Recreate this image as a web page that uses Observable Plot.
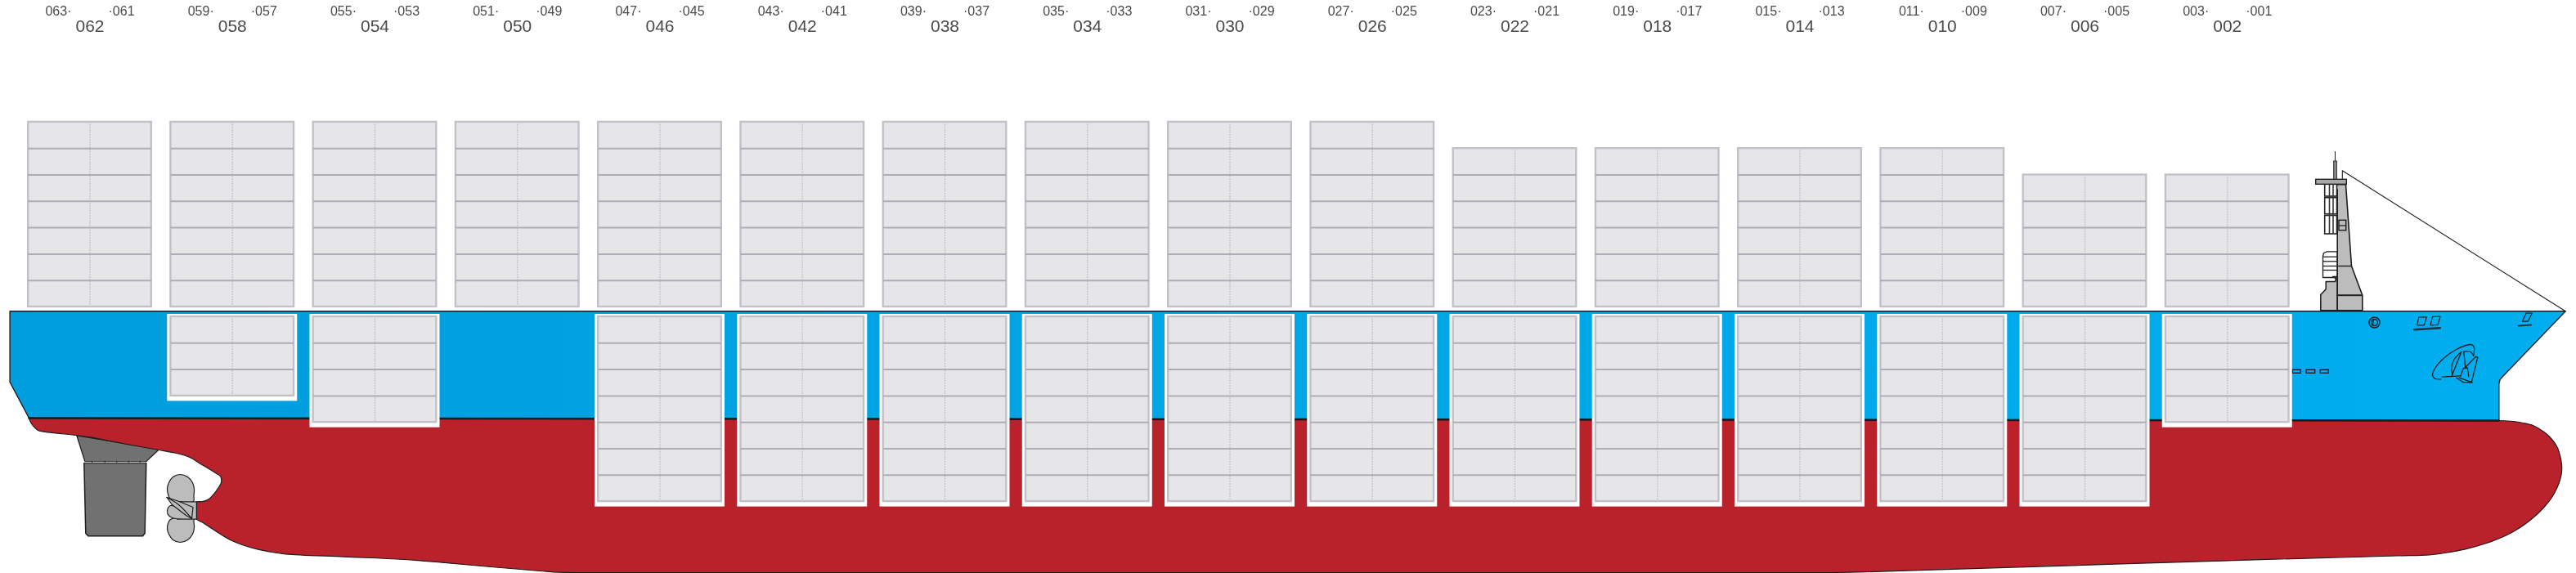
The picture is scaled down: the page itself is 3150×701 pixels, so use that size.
<!DOCTYPE html>
<html>
<head>
<meta charset="utf-8">
<script src="https://cdn.jsdelivr.net/npm/d3@7"></script>
<script src="https://cdn.jsdelivr.net/npm/@observablehq/plot@0.6"></script>
<style>
html,body{margin:0;padding:0;background:#fff}
svg{display:block}
svg g[aria-label="text"]{filter:grayscale(1)}
</style>
</head>
<body>
<div id="chart"></div>
<script>
// ---- bay plan values ----
const bays40 = ["062","058","054","050","046","042","038","034","030","026","022","018","014","010","006","002"];
const bays20Aft = ["063","059","055","051","047","043","039","035","031","027","023","019","015","011","007","003"];
const bays20Fwd = ["061","057","053","049","045","041","037","033","029","025","021","017","013","009","005","001"];
const deckTiers = [7,7,7,7,7,7,7,7,7,7,6,6,6,6,5,5];
const holdTiers = [0,3,4,0,7,7,7,7,7,7,7,7,7,7,7,4];

// ---- drawing outlines, in picture units ----
const blueHull = [[11.6,380.3],[3136.7,380.3],[3060,460],[3056.5,464],[3055.3,469],[3055.3,514],[35,511],[11.6,467]];
const redHull = [[35,511],[37,516],[41,521.7],[46,526],[53,527.7],[72,529.8],[92,532],[111.5,534.7],[135,539.2],[160,544],[194,550],[213,553.5],[225,556.5],[235,560.7],[243,566],[252,571.2],[262,577.5],[267.5,580.8],[269.3,582.5],[270,590],[266,597],[261,604],[255,610],[248,612.8],[240,613.3],[240,613.4]];
const redHullLow = [[240,634.9],[240,635],[246,638],[252,641.7],[266,651],[281,660],[297,666.5],[315,671.7],[332,675],[349,677.3],[420,680.7],[494,684],[600,693],[660,698],[683,699.7],[720,700],[1500,700],[2240,700],[2280,699.2],[2330,697.7],[2780,683.7],[2930,679.5],[2970,678.3],[2992,675.5],[3013,671.7],[3040,664],[3063,655],[3081,645],[3097,633],[3110,620.5],[3120,608],[3126,597],[3130,586.7],[3132,577],[3132,568],[3130,557],[3126.7,546.7],[3120,537],[3113,530],[3105,524.5],[3097,520],[3085,517],[3073,515],[3055,514]];
const rudderHorn = [[93.3,532.3],[103.3,564],[178.3,564],[194,549.3],[150,541.7],[93.3,532.3]];
const rudderBlade = [[102.3,566],[104.3,651.7],[107.3,655.3],[174,655.3],[176.7,651.7],[178.3,566],[102.3,566]];
const rudderHinges = [112,127.7,142.3,156.7,170.7];
const propTop = [[220,580],[229,583],[235,590],[237,598],[236.5,606],[236,613],[208,610],[205,604],[204,597],[206,590],[211,583]];
const propLow = [[220,663],[229,660],[235,653],[237,645],[236.5,638],[236,633],[208,635],[205,640],[204,646],[206,653],[211,660]];
const propMid = [[208,618],[216,620],[225,624],[225,632],[216,634],[208,632],[204.5,628],[204.5,622]];
const propHub = [[216,613.5],[240,613.3],[240,635],[216,634],[216,613.5]];
const propLeaf = [[203.5,608],[217,612.5],[235.5,620],[234,634],[227,630],[210,617],[203.5,608]];
const propEdge = [[203.5,608],[218,617],[234,634]];

const tower = [[2852.7,225.3],[2857.7,231.7],[2857.7,379.3],[2888.3,379.3],[2888.3,360.7],[2875,325],[2868,225.3],[2852.7,225.3]];
const lowerBlock = [[2837.3,379.3],[2837.3,360],[2843.7,353.3],[2843.7,344],[2855,344],[2856,340],[2852,338],[2857.7,338],[2857.7,379.3],[2837.3,379.3]];
const stripeBox = [[2857.7,307.3],[2845,307.3],[2841,309],[2840,313],[2840,339],[2857.7,339],[2857.7,307.3]];
const stripeLines = [313.7,319.3,325,330];
const ladderRows = [[225.3,240],[241.7,261.7],[263.5,286]];
const ladderColumns = [2842.7,2848,2852.5];
const towerBands = [[2857.7,2875,325,1.4],[2857.7,2888.3,360.7,2]];
const mastPole = [2853.7,2857.3,197,219.5];
const crossBar = [2831.7,2869.3,219.3,225.3];
const mastWire = [[2855,185],[2855,197.3]];
const stay = [[2863.8,219],[2863.8,208.3],[3136.7,380.3]];
const towerHatch = [[2860,269.3,2868.7,281.7]];

const vents = [[2803.3,2813.3],[2820,2830.7],[2837.3,2847.3]];
const sealBar = [[2901.5,390.5],[2901,397.5]];
const windowA = [[2955,397.3],[2957.3,387.3],[2966.7,387.3],[2964,397.3],[2955,397.3]];
const windowB = [[2971.5,397.3],[2974,387],[2983.5,386.5],[2980.5,397],[2971.5,397.3]];
const windowC = [[3084,392.7],[3088.3,382.7],[3095.7,382.7],[3090.7,392.7],[3084,392.7]];
const underA = [[2951.7,402.7],[2983.3,400.7]];
const underC = [[3079.3,398],[3094.7,397]];
const anchorBlob = [[2984,463.3],[2977,462.7],[2974,458.3],[2977.5,449.5],[2988.3,437.3],[3001.7,427.7],[3015,422],[3022.7,421.3],[3025,425],[3024.3,434]];
const anchorArc = [[3009.3,430],[3000,440],[2997.3,450],[2998.3,458.3]];
const anchorArc2 = [[3012.3,430],[3020,429.5],[3024.3,435]];
const anchorLines = [
  [[2985.7,460.7],[3008.3,459.3]],
  [[2997.7,459.3],[3009.3,430]],
  [[3012.3,430],[3014.3,449.3]],
  [[3013.3,450],[3026.7,436]],
  [[3026.7,436],[3029.3,436.7],[3021.7,467.3]],
  [[3003.3,461.7],[3011.7,467.3],[3022.7,467.3],[3006.7,461.7]],
  [[3008.3,460],[3011.7,450],[3016.7,449.3],[3018.3,460]]
];

// ---- layout helpers ----
const bayX = i => 109.5 + 174.25 * i;
const half = 75.3, tierH = 32.3, deckBase = 375, holdTop = 387;
const idx = bays40.map((_, i) => i);
const holds = idx.filter(i => holdTiers[i] > 0);
const deckTop = i => deckBase - deckTiers[i] * tierH;
const holdBase = i => holdTop + holdTiers[i] * tierH;
const deckLines = idx.flatMap(i => d3.range(1, deckTiers[i]).map(t => ({i, y: deckBase - t * tierH})));
const holdLines = holds.flatMap(i => d3.range(1, holdTiers[i]).map(t => ({i, y: holdTop + t * tierH})));

const line = (pts, o = {}) => Plot.line(pts, {x: d => d[0], y: d => d[1], stroke: "#1d1d1f", strokeWidth: 1.5, ...o});
const cellFill = "#e6e6e9", cellEdge = "#c2c1c8", tierLine = "#aeadb5", midLine = "#cbcbcf";

const stack = (list, top, base) => [
  Plot.rect(list, {x1: i => bayX(i) - half, x2: i => bayX(i) + half, y1: top, y2: base, fill: cellFill, stroke: cellEdge, strokeWidth: 2.4}),
  Plot.ruleX(list, {x: bayX, y1: top, y2: base, stroke: midLine, strokeWidth: 1.6, strokeDasharray: "2 1"})
];
const tiers = rows => Plot.ruleY(rows, {y: "y", x1: d => bayX(d.i) - half, x2: d => bayX(d.i) + half, stroke: tierLine, strokeWidth: 2});

const gradient = () => {
  const defs = d3.create("svg:defs");
  const g = defs.append("linearGradient").attr("id", "hullBlue").attr("x1", "0").attr("x2", "1").attr("y1", "0").attr("y2", "0");
  g.append("stop").attr("offset", "0").attr("stop-color", "#009edd");
  g.append("stop").attr("offset", "1").attr("stop-color", "#00aeef");
  return defs.node();
};

const chart = Plot.plot({
  width: 3150,
  height: 701,
  margin: 0,
  style: {background: "#fff", fontFamily: "'Liberation Sans', Arial, sans-serif"},
  x: {type: "linear", domain: [0, 3150], range: [0, 3150], axis: null},
  y: {type: "linear", domain: [0, 701], range: [0, 701], axis: null},
  marks: [
    gradient,
    // hull
    line(blueHull.concat([blueHull[0]]), {fill: "url(#hullBlue)", strokeWidth: 1.4}),
    line(rudderHorn, {fill: "#717171", strokeWidth: 1.2}),
    line(rudderBlade, {fill: "#717171", strokeWidth: 1.5}),
    Plot.ruleY([565], {x1: 103, x2: 178, stroke: "#bdbdbd", strokeWidth: 1.6}),
    Plot.ruleX(rudderHinges, {x: d => d, y1: 563.5, y2: 566, stroke: "#333", strokeWidth: 1}),
    line(propTop, {fill: "#bcbcbc", curve: "catmull-rom-closed", strokeWidth: 1.2}),
    line(propLow, {fill: "#bcbcbc", curve: "catmull-rom-closed", strokeWidth: 1.2}),
    line(propMid, {fill: "#bcbcbc", curve: "catmull-rom-closed", strokeWidth: 1.2}),
    line(propHub, {fill: "#bcbcbc", strokeWidth: 1.2, stroke: "none"}),
    Plot.ruleX([240], {y1: 613.3, y2: 635, stroke: "#1d1d1f", strokeWidth: 1.3}),
    Plot.ruleY([613.4, 634.6], {x1: 216, x2: 240, stroke: "#1d1d1f", strokeWidth: 1.2}),
    line(propLeaf, {fill: "#bcbcbc", strokeWidth: 1.2}),
    line(propEdge, {strokeWidth: 1.2, curve: "catmull-rom"}),
    line(redHull.concat(redHullLow), {fill: "#b9222a", strokeWidth: 1.2, curve: "catmull-rom"}),
    Plot.line([[35, 511], [3055, 514]], {x: d => d[0], y: d => d[1], stroke: "#15171a", strokeWidth: 2.4}),
    // bow details
    ...vents.map(v => Plot.rect([v], {x1: d => d[0], x2: d => d[1], y1: 452.3, y2: 456.3, fill: "none", stroke: "#1d1d1f", strokeWidth: 1.4})),
    Plot.dot([[2903, 394]], {x: d => d[0], y: d => d[1], r: 6.5, stroke: "#14202a", strokeWidth: 1.5, fill: "none"}),
    Plot.dot([[2903, 394]], {x: d => d[0], y: d => d[1], r: 4, stroke: "#14202a", strokeWidth: 1.4, fill: "none"}),
    line(sealBar, {strokeWidth: 1.6}),
    line(windowA, {strokeWidth: 1.2}),
    line(windowB, {strokeWidth: 1.2}),
    line(windowC, {strokeWidth: 1.2}),
    line(underA, {strokeWidth: 2.4, stroke: "#14323f"}),
    line(underC, {strokeWidth: 2.2, stroke: "#14323f"}),
    line(anchorBlob, {curve: "catmull-rom", strokeWidth: 1.3}),
    line(anchorArc, {curve: "catmull-rom", strokeWidth: 1.2}),
    line(anchorArc2, {curve: "catmull-rom", strokeWidth: 1.2}),
    ...anchorLines.map(a => line(a, {strokeWidth: 1.3})),
    // superstructure
    line(stay, {strokeWidth: 1.1}),
    line(mastWire, {strokeWidth: 1}),
    Plot.rect([mastPole], {x1: d => d[0], x2: d => d[1], y1: d => d[2], y2: d => d[3], fill: "#8f8f8f", stroke: "#222", strokeWidth: 1}),
    line(stripeBox, {fill: "#fff", strokeWidth: 1.3}),
    Plot.ruleY(stripeLines, {y: d => d, x1: 2840, x2: 2857.7, stroke: "#222", strokeWidth: 1.3}),
    line(lowerBlock, {fill: "#bcbcbc", strokeWidth: 1.5}),
    line(tower, {fill: "#bcbcbc", strokeWidth: 1.6}),
    ...towerBands.map(b => Plot.ruleY([b], {y: d => d[2], x1: d => d[0], x2: d => d[1], stroke: "#222", strokeWidth: b[3]})),
    Plot.rect(towerHatch, {x1: d => d[0], x2: d => d[2], y1: d => d[1], y2: d => d[3], fill: "#bcbcbc", stroke: "#222", strokeWidth: 1.5}),
    Plot.ruleY([275.5], {x1: 2860, x2: 2868.7, stroke: "#222", strokeWidth: 1.3}),
    Plot.rect(ladderRows, {x1: ladderColumns[0], x2: 2857.5, y1: d => d[0], y2: d => d[1], fill: "#fff", stroke: "#222", strokeWidth: 1.6}),
    Plot.ruleX(ladderColumns.slice(1), {x: d => d, y1: 225.3, y2: 286, stroke: "#333", strokeWidth: 1.6}),
    Plot.rect([crossBar], {x1: d => d[0], x2: d => d[1], y1: d => d[2], y2: d => d[3], fill: "#a8a8a8", stroke: "#222", strokeWidth: 1.4}),
    // containers in the holds
    Plot.rect(holds, {x1: i => bayX(i) - half - 4.2, x2: i => bayX(i) + half + 4.2, y1: holdTop - 3, y2: i => holdBase(i) + 6.5, fill: "#fff"}),
    ...stack(holds, holdTop, holdBase),
    tiers(holdLines),
    // containers on deck
    ...stack(idx, deckTop, deckBase),
    tiers(deckLines),
    // bay labels
    Plot.text(idx, {x: bayX, y: 32, text: i => bays40[i], fontSize: 21, fill: "#4a4a4c", textAnchor: "middle"}),
    Plot.text(idx, {x: i => bayX(i) - 22.5, y: 13.5, text: i => bays20Aft[i] + "·", fontSize: 16, fill: "#4a4a4c", textAnchor: "end"}),
    Plot.text(idx, {x: i => bayX(i) + 22.5, y: 13.5, text: i => "·" + bays20Fwd[i], fontSize: 16, fill: "#4a4a4c", textAnchor: "start"})
  ]
});
document.getElementById("chart").append(chart);
</script>
</body>
</html>
